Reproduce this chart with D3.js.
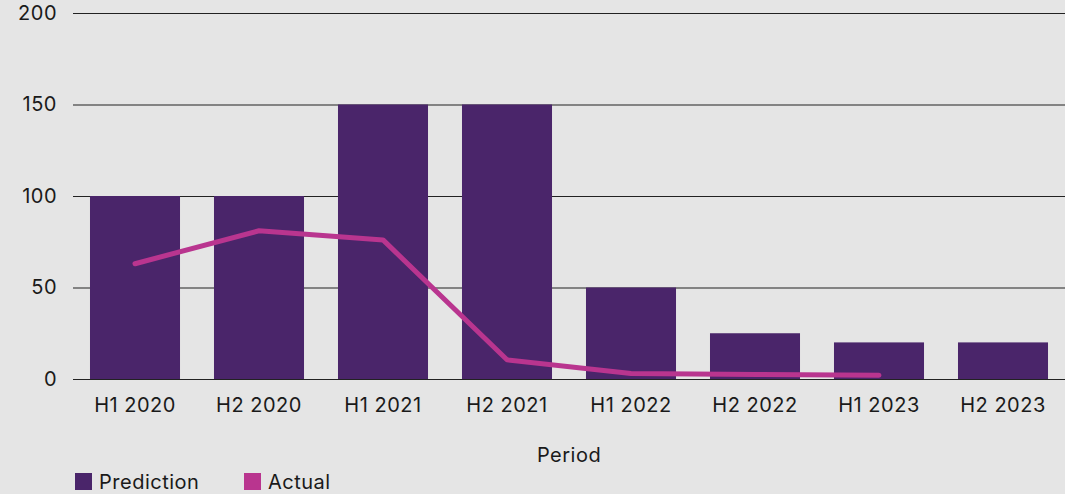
<!DOCTYPE html>
<html>
<head>
<meta charset="utf-8">
<script src="https://cdn.jsdelivr.net/npm/d3@7"></script>
<style>
  html, body { margin: 0; padding: 0; background: #e5e5e5; }
  svg { display: block; font-family: Inter, "Noto Sans", sans-serif; }
  svg text { letter-spacing: 0.5px; }
</style>
</head>
<body>
<div id="chart"></div>
<script>
var svgWidth = 1065;
var svgHeight = 494;

var margin = { top: 13, right: 0, bottom: 115, left: 73 };
var width = svgWidth - margin.left - margin.right;
var height = svgHeight - margin.top - margin.bottom;

// Data
var periods = ["H1 2020", "H2 2020", "H1 2021", "H2 2021", "H1 2022", "H2 2022", "H1 2023", "H2 2023"];
var prediction = [100, 100, 150, 150, 50, 25, 20, 20];
var actual = [63, 81, 76, 10.5, 3, 2.5, 2];
var yTicks = [0, 50, 100, 150, 200];

var svg = d3.select("#chart")
  .append("svg")
  .attr("width", svgWidth)
  .attr("height", svgHeight);

var chartGroup = svg.append("g")
  .attr("transform", `translate(${margin.left}, ${margin.top})`);

// Scales
var xScale = d3.scaleBand()
  .domain(periods)
  .range([0, width])
  .paddingInner(0.274)
  .paddingOuter(0.137);

var yScale = d3.scaleLinear()
  .domain([0, 200])
  .range([height, 0]);

// Gridlines
chartGroup.append("g")
  .call(d3.axisLeft(yScale).tickValues(yTicks).tickSize(-width).tickPadding(16))
  .call(g => g.select(".domain").remove())
  .call(g => g.selectAll(".tick line").attr("stroke", "#222").attr("stroke-width", 1.2))
  .call(g => g.selectAll(".tick text")
    .attr("font-size", 20).attr("fill", "#1a1a1a").attr("font-family", "Inter, sans-serif"));

// Bars
chartGroup.selectAll("rect.bar")
  .data(prediction)
  .enter()
  .append("rect")
  .attr("class", "bar")
  .attr("x", (d, i) => xScale(periods[i]))
  .attr("y", d => yScale(d))
  .attr("width", xScale.bandwidth())
  .attr("height", d => height - yScale(d))
  .attr("fill", "#4a256a");

// Bottom axis
chartGroup.append("g")
  .attr("transform", `translate(0, ${height})`)
  .call(d3.axisBottom(xScale).tickSize(0).tickPadding(19))
  .call(g => g.select(".domain").attr("stroke", "#222").attr("stroke-width", 1.2))
  .call(g => g.selectAll(".tick text")
    .attr("font-size", 20).attr("fill", "#1a1a1a").attr("font-family", "Inter, sans-serif"));

// Actual line
var line = d3.line()
  .x((d, i) => xScale(periods[i]) + xScale.bandwidth() / 2)
  .y(d => yScale(d));

chartGroup.append("path")
  .datum(actual)
  .attr("d", line)
  .attr("fill", "none")
  .attr("stroke", "#b9358f")
  .attr("stroke-width", 5)
  .attr("stroke-linecap", "round")
  .attr("stroke-linejoin", "round");

// Axis title
chartGroup.append("text")
  .attr("x", width / 2)
  .attr("y", height + 83)
  .attr("text-anchor", "middle")
  .attr("font-size", 20)
  .attr("fill", "#1a1a1a")
  .text("Period");

// Legend
var legendItems = [
  { label: "Prediction", color: "#4a256a", x: 75 },
  { label: "Actual", color: "#b9358f", x: 244 }
];

var legend = svg.append("g");
legend.selectAll("rect")
  .data(legendItems)
  .enter()
  .append("rect")
  .attr("x", d => d.x)
  .attr("y", 473)
  .attr("width", 17)
  .attr("height", 17)
  .attr("fill", d => d.color);

legend.selectAll("text")
  .data(legendItems)
  .enter()
  .append("text")
  .attr("x", d => d.x + 24)
  .attr("y", 489)
  .attr("font-size", 20)
  .attr("fill", "#1a1a1a")
  .text(d => d.label);
</script>
</body>
</html>
